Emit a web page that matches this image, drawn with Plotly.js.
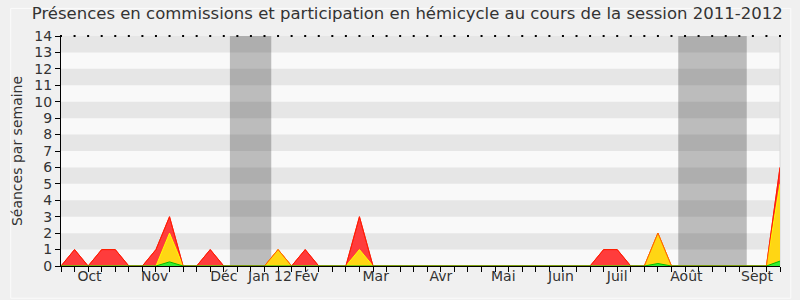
<!DOCTYPE html>
<html>
<head>
<meta charset="utf-8">
<script src="https://cdn.plot.ly/plotly-3.0.1.min.js"></script>
<style>html,body{margin:0;padding:0;background:#f0f0f0;}#chart{width:800px;height:300px;}</style>
</head>
<body>
<div id="chart"></div>
<script>
// Weekly data, session 2011-2012 (week index 0..53)
const weeks = Array.from({length: 54}, (_, i) => i);
const red    = [0,1,0,1,1,0,0,1,3,0,0,1,0,0,0,0,1,0,1,0,0,0,3,0,0,0,0,0,0,0,0,0,0,0,0,0,0,0,0,0,1,1,0,0,2,0,0,0,0,0,0,0,0,6];
const yellow = [0,0,0,0,0,0,0,0,2,0,0,0,0,0,0,0,1,0,0,0,0,0,1,0,0,0,0,0,0,0,0,0,0,0,0,0,0,0,0,0,0,0,0,0,2,0,0,0,0,0,0,0,0,5];
const green  = [0,0,0,0,0,0,0,0,0.25,0,0,0,0,0,0,0,0,0,0,0,0,0,0,0,0,0,0,0,0,0,0,0,0,0,0,0,0,0,0,0,0,0,0,0,0.15,0,0,0,0,0,0,0,0,0.3];
const monthLabels = ["Oct","Nov","Déc","Jan 12","Fév","Mar","Avr","Mai","Juin","Juil","Août","Sept"];
const monthPos    = [2.1,6.9,12.0,15.4,18.1,23.2,28.0,32.6,36.85,41.0,46.1,51.3];
const vacations = [[12.45,15.5],[45.5,50.55]];
const yMax = 14;

const traces = [
  {x: weeks, y: red, type:'scatter', mode:'lines', fill:'tozeroy',
   line:{color:'#ff0000', width:1}, fillcolor:'#ff3c3c', hoverinfo:'skip'},
  {x: weeks, y: yellow, type:'scatter', mode:'lines', fill:'tozeroy',
   line:{color:'#ffff00', width:1}, fillcolor:'#ffd614', hoverinfo:'skip'},
  {x: weeks, y: red, type:'scatter', mode:'lines',
   line:{color:'rgba(255,40,0,0.75)', width:1}, hoverinfo:'skip'},
  {x: weeks, y: green, type:'scatter', mode:'lines', fill:'tozeroy',
   line:{color:'#00bb00', width:1}, fillcolor:'#33ee33', hoverinfo:'skip'},
  {x: weeks, y: weeks.map(() => yMax), type:'scatter', mode:'markers', cliponaxis:false,
   marker:{symbol:'square', size:2, color:'#000', line:{width:0}}, hoverinfo:'skip'}
];

const shapes = [];
for (let n = 1; n < yMax; n += 2) {
  shapes.push({type:'rect', xref:'paper', yref:'y', x0:0, x1:1, y0:n, y1:n+1,
    fillcolor:'#e6e6e6', line:{width:0}, layer:'below'});
}
vacations.forEach(v => shapes.push({type:'rect', xref:'x', yref:'paper', x0:v[0], x1:v[1], y0:0, y1:1,
  fillcolor:'rgba(0,0,0,0.245)', line:{width:0}, layer:'below'}));
shapes.push({type:'line', xref:'paper', yref:'paper', x0:1, x1:1, y0:0, y1:1,
  line:{color:'#d8d8d8', width:1}, layer:'below'});
shapes.push({type:'path', xref:'paper', yref:'paper',
  path:'M -0.07 -0.14 L 1.015 -0.14 L 1.015 1.12 L -0.07 1.12 Z',
  line:{color:'#fbfbfb', width:1}, fillcolor:'rgba(0,0,0,0)', layer:'below'});

const layout = {
  width:800, height:300,
  paper_bgcolor:'#f0f0f0', plot_bgcolor:'#f9f9f9',
  margin:{l:61, r:20, t:36, b:34},
  showlegend:false,
  font:{family:'"DejaVu Sans", sans-serif', color:'#333'},
  title:{text:'Présences en commissions et participation en hémicycle au cours de la session 2011-2012',
    font:{size:16.5, color:'#333'}, x:0.509, xanchor:'center', y:0.975, yanchor:'top'},
  xaxis:{range:[0,53], tickvals:weeks, ticktext:weeks.map(() => ''), ticks:'outside', ticklen:5,
    tickcolor:'#000', showline:true, linecolor:'#000', linewidth:1, showgrid:false, zeroline:false, fixedrange:true},
  xaxis2:{range:[0,53], overlaying:'x', anchor:'y', side:'bottom', tickvals:monthPos, ticktext:monthLabels,
    ticks:'', showline:false, showgrid:false, zeroline:false, tickfont:{size:14, color:'#333'}},
  yaxis:{range:[0,yMax], dtick:1, tick0:0, ticks:'outside', ticklen:5, tickcolor:'#000',
    showline:true, linecolor:'#000', linewidth:1, showgrid:false, zeroline:false,
    tickfont:{size:14, color:'#333'},
    title:{text:'Séances par semaine', font:{size:14, color:'#333'}, standoff:8}},
  shapes: shapes
};
traces.push({x:[0], y:[0], xaxis:'x2', type:'scatter', mode:'markers', marker:{opacity:0}, hoverinfo:'skip'});
Plotly.newPlot('chart', traces, layout, {displayModeBar:false, staticPlot:true});
</script>
</body>
</html>
